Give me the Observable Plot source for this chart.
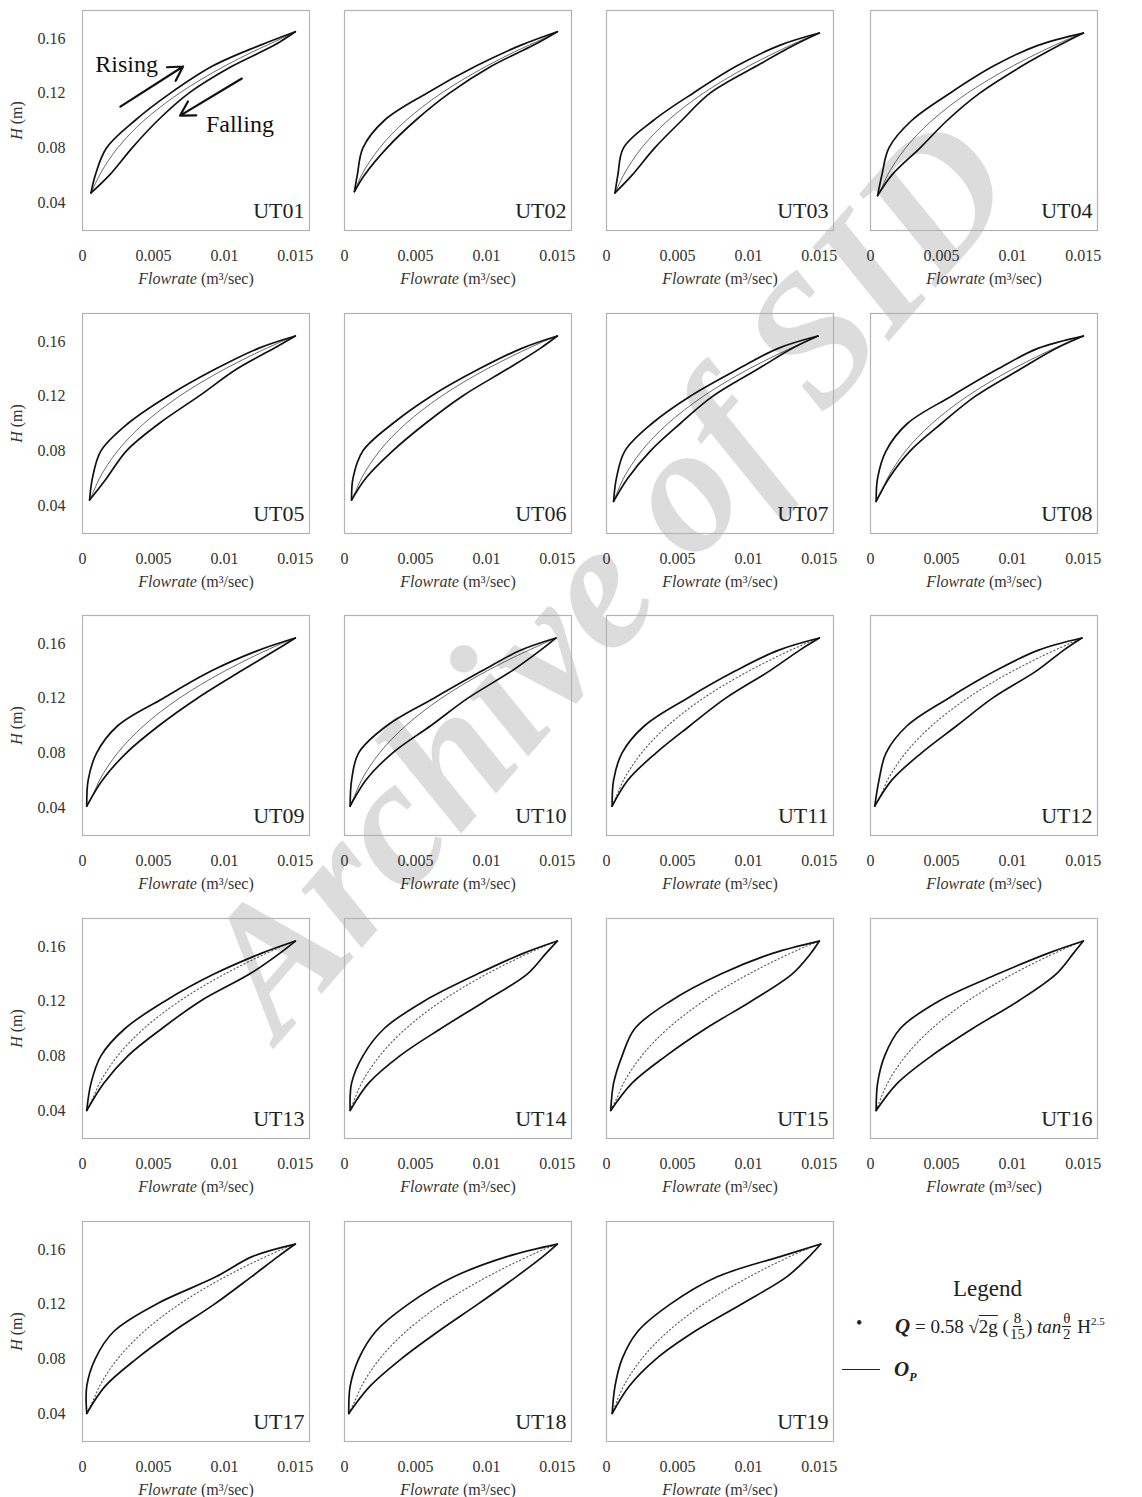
<!DOCTYPE html>
<html><head><meta charset="utf-8">
<script src="https://cdn.jsdelivr.net/npm/d3@7"></script>
<script src="https://cdn.jsdelivr.net/npm/@observablehq/plot@0.6"></script>
<style>
html,body{margin:0;padding:0;background:#fff;}
#page{position:relative;width:1142px;height:1497px;overflow:hidden;font-family:"Liberation Serif","Times New Roman",serif;color:#222;background:#fff;}
#wm{position:absolute;left:605px;top:575px;transform:translate(-50%,-50%) rotate(-49deg);font:italic bold 182px "Liberation Serif",serif;color:#dcdcdc;white-space:nowrap;line-height:1;}
.panel{position:absolute;}
.lg{position:absolute;white-space:nowrap;}
.frac{display:inline-flex;flex-direction:column;align-items:center;font-size:15px;line-height:1.0;vertical-align:middle;margin:0 1px;}
.frac span:first-child{border-bottom:1px solid #222;padding:0 1px;}
</style></head>
<body><div id="page"><div id="wm">Archive of SID</div></div>
<script>
// ---------------- data ----------------
const panelNames = ["UT01","UT02","UT03","UT04","UT05","UT06","UT07","UT08","UT09","UT10",
                    "UT11","UT12","UT13","UT14","UT15","UT16","UT17","UT18","UT19"];
// H levels (m) at which the rising / falling limbs were read
const levelH = [0.06, 0.08, 0.10, 0.12, 0.14, 0.155];
// loop start (lowest point) and peak of each hydrograph
const startH = [0.047,0.048,0.047,0.045,0.044,0.044,0.043,0.043,0.041,0.041,0.041,0.041,0.040,0.040,0.040,0.040,0.040,0.040,0.040];
const startQ = [0.0006,0.0007,0.0006,0.0005,0.0005,0.0005,0.0005,0.0004,0.0003,0.0004,0.0004,0.0003,0.0003,0.0004,0.0003,0.0004,0.0003,0.0003,0.0004];
const peakH  = [0.165,0.165,0.164,0.164,0.164,0.164,0.164,0.164,0.164,0.164,0.164,0.164,0.164,0.164,0.164,0.164,0.164,0.164,0.164];
const peakQ  = [0.0150,0.0150,0.0150,0.0150,0.0150,0.0150,0.0149,0.0150,0.0150,0.0149,0.0150,0.0149,0.0150,0.0150,0.0150,0.0150,0.0150,0.0150,0.0151];
// observed flowrate (m3/s) on the rising limb at levelH
const risingQ = [
  [0.0009,0.0017,0.0037,0.0062,0.0092,0.0125],
  [0.0009,0.0013,0.0028,0.0058,0.0093,0.0124],
  [0.0008,0.0012,0.0033,0.0061,0.0092,0.0122],
  [0.0008,0.0013,0.0029,0.0056,0.0087,0.0118],
  [0.0007,0.0013,0.0032,0.0060,0.0094,0.0124],
  [0.0006,0.0013,0.0034,0.0061,0.0095,0.0125],
  [0.0007,0.0013,0.0032,0.0059,0.0093,0.0121],
  [0.0005,0.0011,0.0026,0.0057,0.0090,0.0118],
  [0.0004,0.0010,0.0025,0.0057,0.0091,0.0124],
  [0.0005,0.0010,0.0030,0.0063,0.0097,0.0124],
  [0.0005,0.0011,0.0027,0.0057,0.0091,0.0121],
  [0.0006,0.0011,0.0026,0.0055,0.0088,0.0118],
  [0.0006,0.0013,0.0030,0.0058,0.0093,0.0126],
  [0.0005,0.0013,0.0028,0.0056,0.0094,0.0126],
  [0.0005,0.0011,0.0020,0.0045,0.0081,0.0117],
  [0.0005,0.0010,0.0021,0.0048,0.0090,0.0125],
  [0.0003,0.0009,0.0022,0.0052,0.0094,0.0120],
  [0.0004,0.0010,0.0022,0.0045,0.0077,0.0115],
  [0.0006,0.0011,0.0022,0.0045,0.0078,0.0123]
];
// observed flowrate (m3/s) on the falling limb at levelH
const fallingQ = [
  [0.0019,0.0035,0.0053,0.0075,0.0106,0.0135],
  [0.0014,0.0030,0.0050,0.0074,0.0104,0.0133],
  [0.0018,0.0034,0.0053,0.0073,0.0106,0.0132],
  [0.0015,0.0035,0.0054,0.0077,0.0107,0.0133],
  [0.0017,0.0031,0.0054,0.0082,0.0109,0.0135],
  [0.0015,0.0034,0.0057,0.0083,0.0115,0.0138],
  [0.0015,0.0031,0.0052,0.0075,0.0107,0.0131],
  [0.0013,0.0028,0.0050,0.0074,0.0106,0.0131],
  [0.0014,0.0031,0.0054,0.0081,0.0112,0.0136],
  [0.0015,0.0034,0.0061,0.0087,0.0118,0.0138],
  [0.0015,0.0035,0.0059,0.0084,0.0115,0.0136],
  [0.0015,0.0036,0.0061,0.0086,0.0117,0.0136],
  [0.0015,0.0032,0.0056,0.0083,0.0118,0.0139],
  [0.0017,0.0039,0.0068,0.0099,0.0129,0.0142],
  [0.0018,0.0042,0.0070,0.0102,0.0131,0.0144],
  [0.0019,0.0043,0.0072,0.0104,0.0131,0.0143],
  [0.0016,0.0038,0.0064,0.0093,0.0119,0.0138],
  [0.0018,0.0040,0.0066,0.0094,0.0121,0.0140],
  [0.0016,0.0035,0.0062,0.0095,0.0127,0.0143]
];
// weir-equation curve (dotted)
const eqH = [0.04,0.05,0.06,0.07,0.08,0.09,0.10,0.11,0.12,0.13,0.14,0.15,0.16,0.164];
const eqQ = [0.00044,0.00077,0.0012,0.00178,0.00248,0.00333,0.00433,0.0055,0.00683,0.00835,0.01005,0.01194,0.01403,0.01492];
const xTicks = [0, 0.005, 0.01, 0.015];
const yTicks = [0.04, 0.08, 0.12, 0.16];
const annotText = [{label:"Rising", q:0.0009, h:0.1410}, {label:"Falling", q:0.0087, h:0.0975}];
const annotArrows = [{q1:0.00267,h1:0.1102,q2:0.00709,h2:0.1395},{q1:0.01123,h1:0.1307,q2:0.00688,h2:0.1036}];

// ---------------- layout ----------------
const colLeft = [82, 344, 606, 870];
const rowTop = [10, 313, 615, 918, 1221];
const FW = 227, FH = 220;
const ML = 82, MR = 12, MT = 10, MB = 64;
const page = document.getElementById("page");
const FONT = '"Liberation Serif","Times New Roman",serif';

panelNames.forEach((name, i) => {
  const col = i % 4, row = Math.floor(i / 4);
  const start = {q: startQ[i], h: startH[i]};
  const peak = {q: peakQ[i], h: peakH[i]};
  const rise = [start, ...levelH.map((h, k) => ({q: risingQ[i][k], h})).filter(d => d.h > start.h + 0.004), peak];
  const fall = [peak, ...levelH.map((h, k) => ({q: fallingQ[i][k], h})).filter(d => d.h > start.h + 0.004).reverse(), start];
  const eq = [start, ...eqH.map((h, k) => ({q: eqQ[k], h})).filter(d => d.h > start.h + 0.004 && d.h < peak.h - 0.002), peak];
  const dotted = i >= 10;
  const marks = [
    Plot.frame({stroke: "#b3b3b3", strokeWidth: 1.2}),
    Plot.axisX({ticks: xTicks, tickSize: 0, tickPadding: 19, tickFormat: d => String(d), fontSize: 16,
      label: "Flowrate (m³/sec)", labelAnchor: "center", labelOffset: 53, labelArrow: "none"}),
    Plot.line(eq, {x: "q", y: "h", curve: "catmull-rom", stroke: dotted ? "#555" : "#444",
      strokeWidth: dotted ? 1.1 : 0.8, strokeDasharray: dotted ? "1.2,2.6" : null}),
    Plot.line(rise, {x: "q", y: "h", curve: "catmull-rom", stroke: "#111", strokeWidth: 1.7}),
    Plot.line(fall, {x: "q", y: "h", curve: "catmull-rom", stroke: "#111", strokeWidth: 1.7}),
    Plot.text([name], {frameAnchor: "bottom-right", text: d => d, dx: -5, dy: -13, fontSize: 22, fill: "#222"})
  ];
  if (col === 0) {
    marks.push(Plot.axisY({ticks: yTicks, tickSize: 0, tickPadding: 17, tickFormat: d3.format(".2f"), fontSize: 16,
      label: "H (m)", labelAnchor: "center", labelOffset: 72, labelArrow: "none"}));
  }
  if (i === 0) {
    marks.push(Plot.text(annotText, {x: "q", y: "h", text: "label", textAnchor: "start", fontSize: 24, fill: "#111"}));
    marks.push(Plot.arrow(annotArrows, {x1: "q1", y1: "h1", x2: "q2", y2: "h2", stroke: "#111", strokeWidth: 2.2, headLength: 11}));
  }
  const svg = Plot.plot({
    width: ML + FW + MR, height: MT + FH + MB,
    marginLeft: ML, marginRight: MR, marginTop: MT, marginBottom: MB,
    x: {domain: [0, 0.016]},
    y: {domain: [0.0195, 0.1805], axis: null},
    style: {background: "transparent", fontFamily: FONT, fontSize: "16px", color: "#333", overflow: "visible"},
    marks
  });
  svg.querySelectorAll("text").forEach(t => {
    if (t.textContent === "Flowrate (m³/sec)") t.innerHTML = '<tspan font-style="italic">Flowrate</tspan> (m³/sec)';
    if (t.textContent === "H (m)") t.innerHTML = '<tspan font-style="italic">H</tspan> (m)';
  });
  svg.classList.add("panel");
  svg.style.left = (colLeft[col] - ML) + "px";
  svg.style.top = (rowTop[row] - MT) + "px";
  page.appendChild(svg);
});

// ---------------- legend ----------------
const legend = document.createElement("div");
legend.innerHTML = `
<div class="lg" style="left:953px;top:1276px;font-size:23px;">Legend</div>
<div class="lg" style="left:856px;top:1313px;font-size:18px;">•</div>
<div class="lg" style="left:895px;top:1311px;font-size:19px;display:flex;align-items:center;">
  <b><i style="font-size:21px">Q</i></b>&nbsp;= 0.58&nbsp;√<span style="text-decoration:overline">2g</span>&nbsp;(<span class="frac"><span>8</span><span>15</span></span>)&nbsp;<i>tan</i><span class="frac"><span>θ</span><span>2</span></span>&nbsp;H<sup style="font-size:11px;position:relative;top:-6px">2.5</sup>
</div>
<div class="lg" style="left:842px;top:1369px;width:38px;height:0;border-top:1.5px solid #222;"></div>
<div class="lg" style="left:894px;top:1357px;font-size:21px;font-weight:bold;font-style:italic;">O<sub style="font-size:12px">P</sub></div>`;
page.appendChild(legend);
</script></body></html>
